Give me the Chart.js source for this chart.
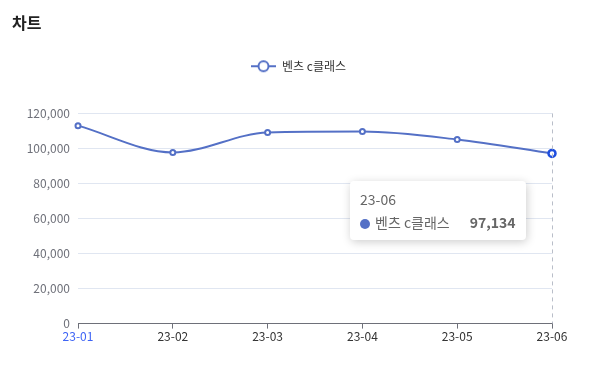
<!DOCTYPE html>
<html>
<head>
<meta charset="utf-8">
<script src="https://cdn.jsdelivr.net/npm/chart.js@4/dist/chart.umd.min.js"></script>
<style>
    html, body { margin: 0; padding: 0; background: #fff; }
    #wrap { position: relative; width: 597px; height: 374px; }
    #tip {
        position: absolute; display: none; box-sizing: border-box;
        background: #fff; border-radius: 4px; padding: 8px 10px;
        box-shadow: 1px 2px 10px rgba(0, 0, 0, 0.2);
        font-family: "Noto Sans CJK KR", sans-serif; color: #666; font-size: 14px;
        white-space: nowrap; pointer-events: none;
    }
    #tip .t { line-height: 20px; margin-bottom: 3px; }
    #tip .row { line-height: 20px; }
    #tip .dot { display: inline-block; width: 10px; height: 10px; border-radius: 50%; margin-right: 5px; vertical-align: -1px; }
    #tip .v { float: right; margin-left: 20px; font-weight: bold; }
</style>
</head>
<body>
<div id="wrap">
    <canvas id="chart" width="597" height="374"></canvas>
    <div id="tip"></div>
</div>
<script>
// 데이터
const months = ['23-01', '23-02', '23-03', '23-04', '23-05', '23-06'];
const seriesName = '벤츠 c클래스';
const values = [113000, 97700, 109100, 109600, 105100, 97134];
const yTicks = [0, 20000, 40000, 60000, 80000, 100000, 120000];

const LINE = '#5470c6';
const FONT = '"Noto Sans CJK KR", sans-serif';

// 범례 아이콘 (선 + 빈 원)
const legendIcon = document.createElement('canvas');
legendIcon.width = 25;
legendIcon.height = 14;
(() => {
    const c = legendIcon.getContext('2d');
    c.strokeStyle = LINE;
    c.lineWidth = 2;
    c.beginPath(); c.moveTo(0, 7); c.lineTo(25, 7); c.stroke();
    c.fillStyle = '#fff';
    c.beginPath(); c.arc(12.5, 7, 5, 0, Math.PI * 2); c.fill(); c.stroke();
})();

// 범례를 캔버스 중앙으로 이동
const legendShift = {
    id: 'legendShift',
    afterLayout: (chart) => {
        const lg = chart.legend;
        if (!lg) return;
        const dx = chart.width / 2 - (lg.left + lg.right) / 2;
        lg.left += dx;
        lg.right += dx;
    }
};

// 세로 점선 (axisPointer)
const pointerLine = {
    id: 'pointerLine',
    afterDatasetsDraw: (chart) => {
        const act = chart.tooltip.getActiveElements();
        if (!act.length) return;
        const x = act[0].element.x;
        const { top, bottom } = chart.chartArea;
        const ctx = chart.ctx;
        ctx.save();
        ctx.strokeStyle = '#b9bec9';
        ctx.lineWidth = 1;
        ctx.setLineDash([4, 4]);
        ctx.beginPath();
        ctx.moveTo(Math.round(x) + 0.5, top);
        ctx.lineTo(Math.round(x) + 0.5, bottom);
        ctx.stroke();
        ctx.restore();
    }
};

const externalTooltip = (context) => {
    const tip = document.getElementById('tip');
    const model = context.tooltip;
    if (model.opacity === 0) { tip.style.display = 'none'; return; }
    const p = model.dataPoints[0];
    tip.innerHTML = `
        <div class="t">${p.label}</div>
        <div class="row"><span class="dot" style="background:${LINE}"></span>${seriesName}<span class="v">${p.raw.toLocaleString('en-US')}</span></div>
    `;
    tip.style.display = 'block';
    tip.style.left = (model.caretX - tip.offsetWidth - 26) + 'px';
    tip.style.top = (model.caretY + 28) + 'px';
};

const chart = new Chart(document.getElementById('chart'), {
    type: 'line',
    data: {
        labels: months,
        datasets: [{
            label: seriesName,
            data: values,
            borderColor: LINE,
            borderWidth: 2,
            backgroundColor: '#fff',
            pointBackgroundColor: '#fff',
            pointBorderColor: LINE,
            pointBorderWidth: 2,
            pointRadius: 2.5,
            pointHoverRadius: 3.5,
            pointHoverBorderWidth: 2.5,
            pointHoverBackgroundColor: '#fff',
            cubicInterpolationMode: 'monotone',
            fill: false
        }]
    },
    options: {
        responsive: false,
        animation: false,
        layout: { padding: { left: 12, right: 45, top: 0, bottom: 29 } },
        interaction: { mode: 'index', intersect: false },
        plugins: {
            title: {
                display: true,
                text: '차트',
                align: 'start',
                color: '#222',
                font: { family: FONT, size: 16, weight: 'bold' },
                padding: { top: 13, bottom: -4 }
            },
            // 범례와 그래프 사이 여백용
            subtitle: {
                display: true,
                text: '',
                weight: 500,
                font: { size: 1 },
                padding: { top: 0, bottom: 30 }
            },
            legend: {
                labels: {
                    usePointStyle: true,
                    pointStyle: legendIcon,
                    pointStyleWidth: 25,
                    color: '#333',
                    font: { family: FONT, size: 12 },
                    padding: 32
                }
            },
            tooltip: { enabled: false, external: externalTooltip }
        },
        scales: {
            x: {
                offset: false,
                grid: { drawOnChartArea: false, drawTicks: true, tickLength: 5, color: '#6e7079' },
                border: { color: '#6e7079' },
                ticks: {
                    padding: 1,
                    maxRotation: 0,
                    autoSkip: false,
                    font: { family: FONT, size: 12 },
                    color: (c) => c.index === 0 ? '#3d63f5' : '#333'
                }
            },
            y: {
                min: 0,
                max: 120000,
                afterBuildTicks: (s) => { s.ticks = yTicks.map(v => ({ value: v })); },
                afterFit: (s) => { s.width = 66; },
                grid: { color: '#e0e6f1', drawTicks: false },
                border: { display: false },
                ticks: {
                    padding: 8,
                    font: { family: FONT, size: 12 },
                    color: '#6e7079',
                    callback: (v) => v.toLocaleString('en-US')
                }
            }
        }
    },
    plugins: [legendShift, pointerLine]
});

// 23-06 툴팁 표시
const meta = chart.getDatasetMeta(0);
const last = meta.data[5];
chart.setActiveElements([{ datasetIndex: 0, index: 5 }]);
chart.tooltip.setActiveElements([{ datasetIndex: 0, index: 5 }], { x: last.x, y: last.y });
chart.update();
</script>
</body>
</html>
